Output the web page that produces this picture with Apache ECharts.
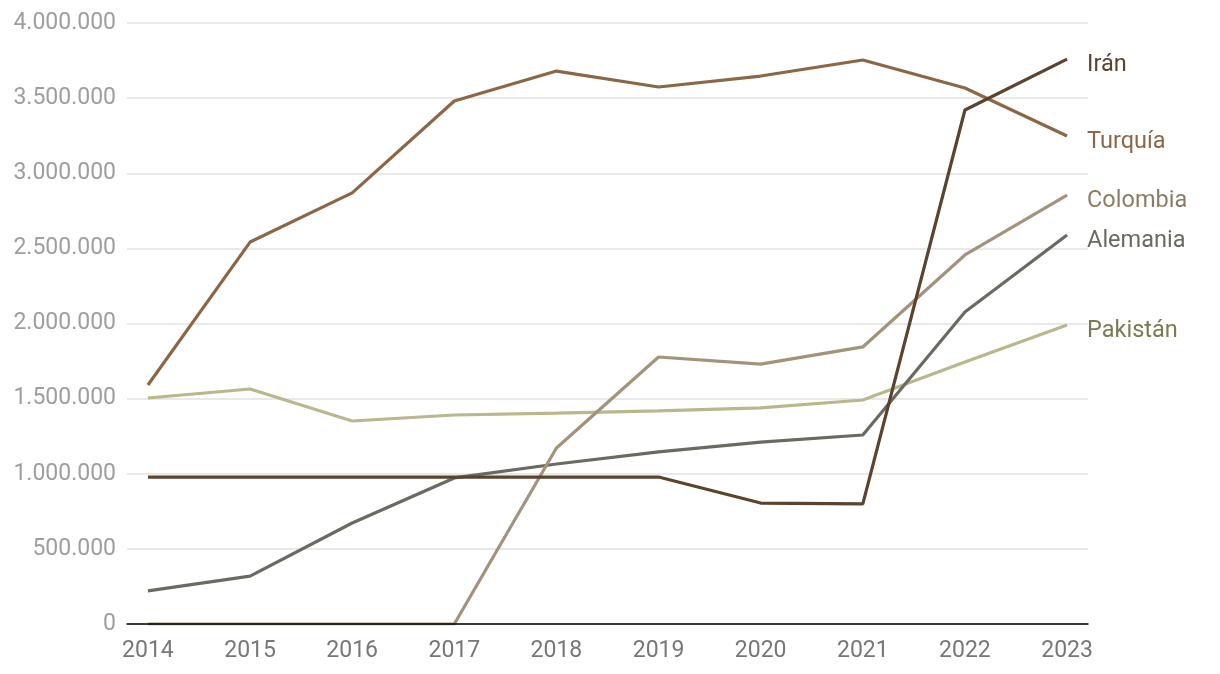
<!DOCTYPE html>
<html>
<head>
<meta charset="utf-8">
<script src="https://cdn.jsdelivr.net/npm/echarts@6/dist/echarts.min.js"></script>
<style>
  html, body { margin: 0; padding: 0; background: #fff; }
  #chart { width: 1220px; height: 674px; }
</style>
</head>
<body>
<div id="chart"></div>
<script>
// años
var years = [2014, 2015, 2016, 2017, 2018, 2019, 2020, 2021, 2022, 2023];

// valores por país
var turquia  = [1591000, 2542000, 2869000, 3481000, 3680000, 3574000, 3647000, 3754000, 3567000, 3248000];
var iran     = [978000, 978000, 978000, 978000, 978000, 978000, 805000, 799000, 3421000, 3760000];
var colombia = [0, 0, 0, 0, 1171000, 1777000, 1730000, 1844000, 2456000, 2855000];
var alemania = [220000, 319000, 672000, 972000, 1065000, 1145000, 1211000, 1258000, 2077000, 2589000];
var pakistan = [1504000, 1564000, 1351000, 1391000, 1404000, 1418000, 1438000, 1491000, 1744000, 1990000];

function pares(vals){
    var out = [];
    for (var i = 0; i < years.length; i++) out.push([years[i], vals[i]]);
    return out;
}

function serie(name, vals, lineColor, labelColor){
    return {
        name: name,
        type: 'line',
        data: pares(vals),
        showSymbol: false,
        symbol: 'none',
        lineStyle: { width: 3.2, color: lineColor },
        itemStyle: { color: lineColor },
        emphasis: { disabled: true },
        endLabel: {
            show: true,
            formatter: name,
            color: labelColor,
            fontSize: 23.5,
            fontFamily: 'Roboto',
            distance: 20,
            offset: [0, 6.5]
        }
    };
}

var chart = echarts.init(document.getElementById('chart'));
var option = {
    animation: false,
    grid: { left: 127, right: 132, top: 23, bottom: 50 },
    xAxis: {
        type: 'value',
        min: 2013.795,
        max: 2023.205,
        z: 5,
        axisLine: { show: true, onZero: false, lineStyle: { color: '#000', width: 1.5 } },
        axisTick: { show: false },
        splitLine: { show: false },
        axisLabel: {
            customValues: years,
            color: '#777',
            fontSize: 23,
            fontFamily: 'Roboto',
            margin: 16,
            formatter: function(v){ return String(v); }
        }
    },
    yAxis: {
        type: 'value',
        min: 0,
        max: 4000000,
        interval: 500000,
        axisLine: { show: false },
        axisTick: { show: false },
        splitLine: { lineStyle: { color: '#e2e2e2', width: 1.5 } },
        axisLabel: {
            color: '#9e9e9e',
            fontSize: 23,
            fontFamily: 'Roboto',
            margin: 11,
            formatter: function(v){
                return String(v).replace(/\B(?=(\d{3})+(?!\d))/g, '.');
            }
        }
    },
    series: [
        serie('Pakistán', pakistan, '#b9b78c', '#7b7a52'),
        serie('Alemania', alemania, '#6a6a62', '#6a6a62'),
        serie('Colombia', colombia, '#a4927b', '#8e7b63'),
        serie('Turquía', turquia, '#8c6746', '#8c6746'),
        serie('Irán', iran, '#5b432e', '#5b432e')
    ]
};
chart.setOption(option);
</script>
</body>
</html>
